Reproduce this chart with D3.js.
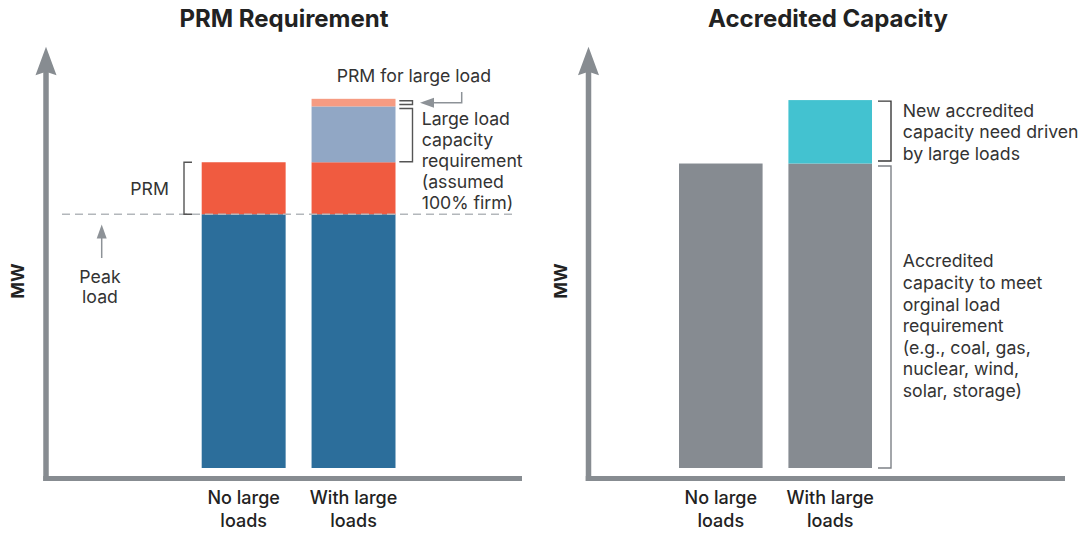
<!DOCTYPE html>
<html>
<head>
<meta charset="utf-8">
<script src="https://cdn.jsdelivr.net/npm/d3@7"></script>
<style>
  html, body { margin: 0; padding: 0; background: #fff; }
  svg { display: block; font-family: Inter, "Noto Sans", sans-serif; }
</style>
</head>
<body>
<svg id="chart" width="1083" height="533"></svg>
<script>
// ---- data (MW, relative units) ----
const categories = ["No large loads", "With large loads"];
const categoryLines = [["No large", "loads"], ["With large", "loads"]];

// Left panel: planning reserve margin requirement stack
const peakLoad  = [100, 100];
const prm       = [20.5, 20.5];
const largeLoad = [0, 22];
const prmLarge  = [0, 3];

// Right panel: accredited capacity stack
const accreditedOriginal = [120, 120];
const accreditedNew      = [0, 25];

const titles = ["PRM Requirement", "Accredited Capacity"];
const yLabel = "MW";
const prmNote = "PRM";
const peakNote = ["Peak", "load"];
const prmLargeNote = "PRM for large load";
const largeLoadNote = ["Large load", "capacity", "requirement", "(assumed", "100% firm)"];
const newCapNote = ["New accredited", "capacity need driven", "by large loads"];
const origCapNote = ["Accredited", "capacity to meet", "orginal load", "requirement", "(e.g., coal, gas,", "nuclear, wind,", "solar, storage)"];

// ---- styling ----
const axisColor = "#878c91";
const colors = {
  peak: "#2c6e9b", prm: "#f05b40", large: "#91a7c5", prmLarge: "#f69b82",
  orig: "#868b91", fresh: "#43c2d0"
};
const noteSize = 17.7;

const svg = d3.select("#chart");
const yMax = 166;
const y = d3.scaleLinear().domain([0, yMax]).range([468, 46.8]);
const axisY = 478.5;

const panels = [
  { axisX: 46, xEnd: 522, bandRange: [201.7, 395.5], title: titles[0], titleX: 284, mwX: 18 },
  { axisX: 588.5, xEnd: 1065, bandRange: [679, 872], title: titles[1], titleX: 828, mwX: 561 }
];
panels.forEach(p => {
  p.x = d3.scaleBand().domain(categories).range(p.bandRange).paddingInner(0.236).paddingOuter(0);
});

// ---- stacks ----
const leftRows = categories.map((c, i) => ({ cat: c, peak: peakLoad[i], prm: prm[i], large: largeLoad[i], prmLarge: prmLarge[i] }));
const rightRows = categories.map((c, i) => ({ cat: c, orig: accreditedOriginal[i], fresh: accreditedNew[i] }));
const leftStack = d3.stack().keys(["peak", "prm", "large", "prmLarge"])(leftRows);
const rightStack = d3.stack().keys(["orig", "fresh"])(rightRows);

function drawStack(series, panel) {
  const g = svg.append("g");
  series.forEach(s => {
    g.selectAll(null).data(s.filter(d => d[1] > d[0])).join("rect")
      .attr("x", d => panel.x(d.data.cat))
      .attr("width", panel.x.bandwidth())
      .attr("y", d => y(d[1]))
      .attr("height", d => y(d[0]) - y(d[1]))
      .attr("fill", colors[s.key]);
  });
}
drawStack(leftStack, panels[0]);
drawStack(rightStack, panels[1]);

// ---- axes with arrowheads ----
panels.forEach(p => {
  const g = svg.append("g");
  const tipY = y(yMax);
  g.append("line")
    .attr("x1", p.axisX).attr("x2", p.axisX)
    .attr("y1", axisY + 2.5).attr("y2", tipY + 20)
    .attr("stroke", axisColor).attr("stroke-width", 5.5);
  g.append("path")
    .attr("d", `M${p.axisX},${tipY} L${p.axisX + 10.5},${tipY + 28.5} L${p.axisX},${tipY + 25} L${p.axisX - 10.5},${tipY + 28.5} Z`)
    .attr("fill", axisColor);
  g.append("line")
    .attr("x1", p.axisX - 2.75).attr("x2", p.xEnd)
    .attr("y1", axisY).attr("y2", axisY)
    .attr("stroke", axisColor).attr("stroke-width", 5);

  // title
  svg.append("text")
    .attr("x", p.titleX).attr("y", 26.5)
    .attr("text-anchor", "middle")
    .attr("font-size", 24).attr("font-weight", 700).attr("fill", "#222")
    .text(p.title);

  // y label
  svg.append("text")
    .attr("transform", `translate(${p.mwX + 6},281) rotate(-90)`)
    .attr("text-anchor", "middle")
    .attr("font-size", 18).attr("font-weight", 700).attr("fill", "#222")
    .text(yLabel);

  // category labels
  categories.forEach((c, i) => {
    const t = svg.append("text")
      .attr("text-anchor", "middle")
      .attr("font-size", 18).attr("font-weight", 500).attr("fill", "#222");
    categoryLines[i].forEach((line, k) => {
      t.append("tspan")
        .attr("x", p.x(c) + p.x.bandwidth() / 2)
        .attr("y", 504.3 + k * 22.4)
        .text(line);
    });
  });
});

// ---- annotations ----
const noteColor = "#333";
const bracketColor = "#555";
const arrowColor = "#8d9297";

function multiline(lines, x, y0, step, anchor) {
  const t = svg.append("text")
    .attr("text-anchor", anchor || "start")
    .attr("font-size", noteSize).attr("fill", noteColor);
  lines.forEach((line, k) => {
    t.append("tspan").attr("x", x).attr("y", y0 + k * step).text(line);
  });
  return t;
}

// bracket whose stubs point back toward the bar on its left
function bracketLeft(xStub, xSpine, yTop, yBot, color) {
  svg.append("path")
    .attr("d", `M${xStub},${yTop} H${xSpine} V${yBot} H${xStub}`)
    .attr("fill", "none").attr("stroke", color).attr("stroke-width", 1.4);
}

function arrowHead(x, yTip, dir) {
  // dir: "up" or "left"
  const L = 14, W = 5;
  let d;
  if (dir === "up") d = `M${x},${yTip} L${x + W},${yTip + L} L${x - W},${yTip + L} Z`;
  else d = `M${x},${yTip} L${x + L},${yTip - W} L${x + L},${yTip + W} Z`;
  svg.append("path").attr("d", d).attr("fill", arrowColor);
}

// peak load dashed reference
svg.append("line")
  .attr("x1", 62).attr("x2", 512)
  .attr("y1", y(peakLoad[0])).attr("y2", y(peakLoad[0]))
  .attr("stroke", "#b3b7bb").attr("stroke-width", 1.6)
  .attr("stroke-dasharray", "8,5");

// PRM bracket (opens to the right, toward bar)
svg.append("path")
  .attr("d", `M192,${y(peakLoad[0] + prm[0])} H184 V${y(peakLoad[0])} H192`)
  .attr("fill", "none").attr("stroke", bracketColor).attr("stroke-width", 1.4);
svg.append("text")
  .attr("x", 169).attr("y", 194.5)
  .attr("text-anchor", "end").attr("font-size", noteSize).attr("fill", noteColor)
  .text(prmNote);

// peak load arrow + note
svg.append("line")
  .attr("x1", 101.7).attr("x2", 101.7)
  .attr("y1", 236).attr("y2", 258)
  .attr("stroke", arrowColor).attr("stroke-width", 1.5);
arrowHead(101.7, 224.5, "up");
multiline(peakNote, 100, 282.5, 20.5, "middle");

// PRM for large load: tiny bracket + elbow arrow + note
const topL = peakLoad[1] + prm[1] + largeLoad[1] + prmLarge[1];
const midL = peakLoad[1] + prm[1] + largeLoad[1];
const baseL = peakLoad[1] + prm[1];
bracketLeft(399.3, 412.5, y(topL) + 2, y(midL) - 2, bracketColor);
svg.append("path")
  .attr("d", `M461.7,92 V102.7 H432`)
  .attr("fill", "none").attr("stroke", arrowColor).attr("stroke-width", 1.5);
arrowHead(420, 102.7, "left");
svg.append("text")
  .attr("x", 336.7).attr("y", 81.7)
  .attr("font-size", noteSize).attr("fill", noteColor)
  .text(prmLargeNote);

// large load capacity bracket + note
bracketLeft(399.3, 412.5, y(midL) + 2, y(baseL) - 0.5, bracketColor);
multiline(largeLoadNote, 421.7, 125, 21, "start");

// right panel brackets + notes
const totR = accreditedOriginal[1] + accreditedNew[1];
bracketLeft(878, 891, y(totR) + 1, y(accreditedOriginal[1]) - 2.5, "#3a3a3a");
multiline(newCapNote, 902.7, 116.5, 21.8, "start");
bracketLeft(878, 891, y(accreditedOriginal[1]) + 2.5, y(0), "#7d8187");
multiline(origCapNote, 902.7, 267.3, 21.6, "start");
</script>
</body>
</html>
